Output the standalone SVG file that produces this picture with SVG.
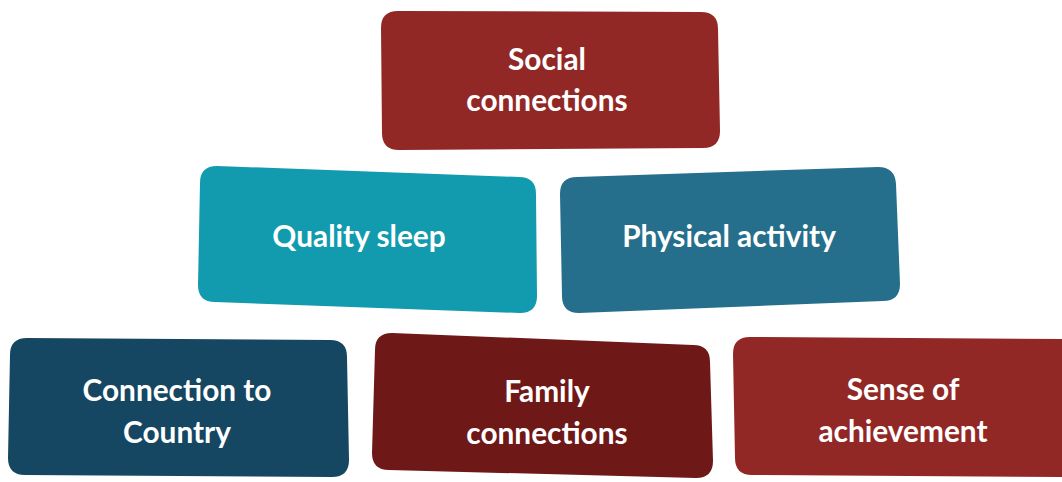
<svg xmlns="http://www.w3.org/2000/svg" width="1062" height="482" viewBox="0 0 1062 482">
  <style>
    .label { font-family: Lato, "Liberation Sans", sans-serif; font-weight: 700; font-size: 29.8px; fill: #ffffff; text-anchor: middle; }
    .red { fill: #922826; }
    .teal { fill: #129aae; }
    .blue { fill: #266f8c; }
    .navy { fill: #154762; }
    .maroon { fill: #6e1818; }
  </style>
  <rect width="1062" height="482" fill="#ffffff"/>

  <!-- top row -->
  <g id="social-connections">
    <path class="red" d="M381,28 Q381,11 398,11 L701,12 Q718,12 718,29 L720,131 Q720,148 703,148 L399,150 Q382,150 382,133 Z"/>
    <text class="label" x="547" y="70">Social</text>
    <text class="label" x="547" y="111">connections</text>
  </g>

  <!-- middle row -->
  <g id="quality-sleep">
    <path class="teal" d="M200,183 Q200,166 217,166 L519,177 Q536,177 536,194 L537,296 Q537,313 520,313 L215,302 Q198,302 198,285 Z"/>
    <text class="label" x="359" y="247">Quality sleep</text>
  </g>

  <g id="physical-activity">
    <path class="blue" d="M560,194 Q560,177 577,177 L878,167 Q895,167 896,184 L900,284 Q900,301 883,301 L579,313 Q562,313 562,296 Z"/>
    <text class="label" x="729" y="247">Physical activity</text>
  </g>

  <!-- bottom row -->
  <g id="connection-to-country">
    <path class="navy" d="M10,355 Q10,338 27,338 L330,340 Q347,340 347,357 L349,460 Q349,477 332,477 L25,475 Q8,475 8,458 Z"/>
    <text class="label" x="177" y="401">Connection to</text>
    <text class="label" x="177" y="443">Country</text>
  </g>

  <g id="family-connections">
    <path class="maroon" d="M375,350 Q375,333 392,333 L693,345 Q710,345 710,362 L713,461 Q713,478 696,478 L389,470 Q372,470 372,453 Z"/>
    <text class="label" x="547" y="402">Family</text>
    <text class="label" x="547" y="444">connections</text>
  </g>

  <g id="sense-of-achievement">
    <path class="red" d="M733,354 Q733,337 750,337 L1062,339 L1062,477 L752,475 Q735,475 735,458 Z"/>
    <text class="label" x="903" y="400">Sense of</text>
    <text class="label" x="903" y="442">achievement</text>
  </g>
</svg>
